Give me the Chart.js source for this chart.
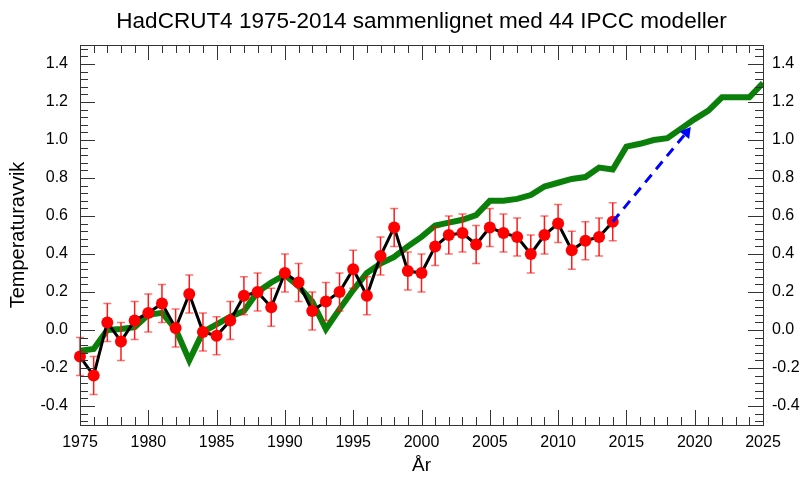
<!DOCTYPE html>
<html>
<head>
<meta charset="utf-8">
<script src="https://cdn.jsdelivr.net/npm/chart.js@4.4.0/dist/chart.umd.min.js"></script>
<style>
html, body { margin: 0; padding: 0; background: #fff; }
#wrap { width: 805px; height: 479px; }
</style>
</head>
<body>
<div id="wrap"><canvas id="tempChart"></canvas></div>
<script>
// HadCRUT4 observations 1975-2014
var years = [1975,1976,1977,1978,1979,1980,1981,1982,1983,1984,1985,1986,1987,1988,1989,
	1990,1991,1992,1993,1994,1995,1996,1997,1998,1999,2000,2001,2002,2003,2004,
	2005,2006,2007,2008,2009,2010,2011,2012,2013,2014];
var hadcrut = [-0.14,-0.24,0.04,-0.06,0.05,0.09,0.14,0.01,0.19,-0.01,-0.03,0.05,0.18,0.20,0.12,
	0.30,0.25,0.10,0.15,0.20,0.32,0.18,0.39,0.54,0.31,0.30,0.44,0.50,0.51,0.45,
	0.54,0.51,0.49,0.40,0.50,0.56,0.42,0.47,0.49,0.57];
var hadcrutErr = [0.10,0.10,0.10,0.10,0.10,0.10,0.10,0.10,0.10,0.10,0.10,0.10,0.10,0.10,0.10,
	0.10,0.10,0.10,0.10,0.10,0.10,0.10,0.10,0.10,0.10,0.10,0.10,0.10,0.10,0.10,
	0.10,0.10,0.10,0.10,0.10,0.10,0.10,0.10,0.10,0.10];

// mean of 44 IPCC models 1975-2025
var modelYears = [1975,1976,1977,1978,1979,1980,1981,1982,1983,1984,1985,1986,1987,1988,1989,
	1990,1991,1992,1993,1994,1995,1996,1997,1998,1999,2000,2001,2002,2003,2004,
	2005,2006,2007,2008,2009,2010,2011,2012,2013,2014,2015,2016,2017,2018,2019,
	2020,2021,2022,2023,2024,2025];
var modelMean = [-0.11,-0.10,0.00,0.005,0.015,0.08,0.09,0.005,-0.16,-0.01,0.03,0.07,0.10,0.20,0.25,
	0.29,0.23,0.15,0.005,0.11,0.21,0.30,0.35,0.385,0.44,0.49,0.55,0.565,0.58,0.605,
	0.68,0.68,0.69,0.71,0.755,0.775,0.795,0.805,0.855,0.845,0.965,0.98,1.00,1.01,1.06,
	1.11,1.155,1.225,1.225,1.225,1.30];

// dashed trend arrow
var trendYears = [2014, 2019.4];
var trendValues = [0.57, 1.04];

var xTicks = [1975,1980,1985,1990,1995,2000,2005,2010,2015,2020,2025];
var yTicks = [-0.4,-0.2,0.0,0.2,0.4,0.6,0.8,1.0,1.2,1.4];

Chart.defaults.font.family = '"Liberation Sans", Arial, Helvetica, sans-serif';
Chart.defaults.color = '#000';

function toPoints(xs, ys) {
	return xs.map(function(x, i) { return { x: x, y: ys[i] }; });
}

// frame, inward ticks and error bars
var idlFrame = {
	id: 'idlFrame',
	beforeDatasetDraw: function(chart, args) {
		if (args.index !== 1) return;
		var ctx = chart.ctx, xs = chart.scales.x, ys = chart.scales.y;
		ctx.save();
		for (var i = 0; i < years.length; i++) {
			var px = xs.getPixelForValue(years[i]);
			var top = ys.getPixelForValue(hadcrut[i] + hadcrutErr[i]);
			var bot = ys.getPixelForValue(hadcrut[i] - hadcrutErr[i]);
			ctx.strokeStyle = '#ff1a1a';
			ctx.lineWidth = 1.5;
			ctx.beginPath();
			ctx.moveTo(px, top); ctx.lineTo(px, bot);
			ctx.stroke();
			ctx.strokeStyle = 'rgba(255,0,0,0.55)';
			ctx.beginPath();
			ctx.moveTo(px - 4, top); ctx.lineTo(px + 4, top);
			ctx.moveTo(px - 4, bot); ctx.lineTo(px + 4, bot);
			ctx.stroke();
		}
		ctx.restore();
	},
	afterDraw: function(chart) {
		var a = chart.chartArea, ctx = chart.ctx;
		var xs = chart.scales.x, ys = chart.scales.y;
		ctx.save();
		ctx.strokeStyle = '#333';
		ctx.lineWidth = 1;
		ctx.strokeRect(Math.round(a.left) + 0.5, Math.round(a.top) + 0.5,
			Math.round(a.right - a.left), Math.round(a.bottom - a.top));
		ctx.beginPath();
		for (var yr = 1975; yr <= 2025; yr++) {
			var px = Math.round(xs.getPixelForValue(yr)) + 0.5;
			var len = yr % 5 === 0 ? 15 : 8;
			ctx.moveTo(px, a.bottom); ctx.lineTo(px, a.bottom - len);
			ctx.moveTo(px, a.top); ctx.lineTo(px, a.top + len);
		}
		for (var i = -12; i <= 37; i++) {
			var py = Math.round(ys.getPixelForValue(i * 0.04)) + 0.5;
			var l = i % 5 === 0 ? 15 : 8;
			ctx.moveTo(a.left, py); ctx.lineTo(a.left + l, py);
			ctx.moveTo(a.right, py); ctx.lineTo(a.right - l, py);
		}
		ctx.stroke();
		ctx.restore();
	}
};

var tickFont = { size: 16 };

new Chart(document.getElementById('tempChart'), {
	type: 'line',
	data: {
		datasets: [{
			label: 'Trend',
			data: toPoints(trendYears, trendValues),
			borderColor: '#0000ff',
			backgroundColor: '#0000ff',
			borderWidth: 3,
			borderDash: [10, 7],
			pointStyle: 'triangle',
			pointRadius: [0, 7],
			pointRotation: [0, 38],
			pointBorderWidth: 0,
			order: 0
		}, {
			label: 'HadCRUT4',
			data: toPoints(years, hadcrut),
			borderColor: '#000',
			borderWidth: 3,
			pointRadius: 6,
			pointBackgroundColor: '#ff0000',
			pointBorderWidth: 0,
			clip: false,
			order: 1
		}, {
			label: 'IPCC modeller',
			data: toPoints(modelYears, modelMean),
			borderColor: '#0a800a',
			borderWidth: 6,
			pointRadius: 0,
			order: 2
		}]
	},
	options: {
		responsive: true,
		maintainAspectRatio: false,
		animation: false,
		layout: { padding: 0 },
		plugins: {
			legend: { display: false },
			tooltip: { enabled: false },
			title: {
				display: true,
				text: 'HadCRUT4 1975-2014 sammenlignet med 44 IPCC modeller',
				font: { size: 22.5, weight: 'normal' },
				color: '#000',
				fullSize: false,
				padding: { top: 8, bottom: 10 }
			}
		},
		scales: {
			x: {
				type: 'linear',
				min: 1975,
				max: 2025,
				position: 'bottom',
				grid: { display: false, drawTicks: false },
				border: { display: false },
				ticks: { font: tickFont, padding: 8, maxRotation: 0, autoSkip: false,
					callback: function(v) { return String(v); } },
				afterBuildTicks: function(s) { s.ticks = xTicks.map(function(v) { return { value: v }; }); },
				afterFit: function(s) { s.height = 54; },
				title: { display: true, text: 'År', font: { size: 19 }, padding: { top: 0, bottom: 2 } }
			},
			y: {
				type: 'linear',
				min: -0.5,
				max: 1.5,
				position: 'left',
				grid: { display: false, drawTicks: false },
				border: { display: false },
				ticks: { font: tickFont, padding: 12, callback: function(v) { return v.toFixed(1); } },
				afterBuildTicks: function(s) { s.ticks = yTicks.map(function(v) { return { value: v }; }); },
				afterFit: function(s) { s.width = 80; },
				title: { display: true, text: 'Temperaturavvik', font: { size: 20 }, padding: { top: 6, bottom: 0 } }
			},
			y2: {
				type: 'linear',
				min: -0.5,
				max: 1.5,
				position: 'right',
				grid: { display: false, drawTicks: false },
				border: { display: false },
				ticks: { font: tickFont, padding: 9, callback: function(v) { return v.toFixed(1); } },
				afterBuildTicks: function(s) { s.ticks = yTicks.map(function(v) { return { value: v }; }); },
				afterFit: function(s) { s.width = 42; }
			}
		}
	},
	plugins: [idlFrame]
});
</script>
</body>
</html>
